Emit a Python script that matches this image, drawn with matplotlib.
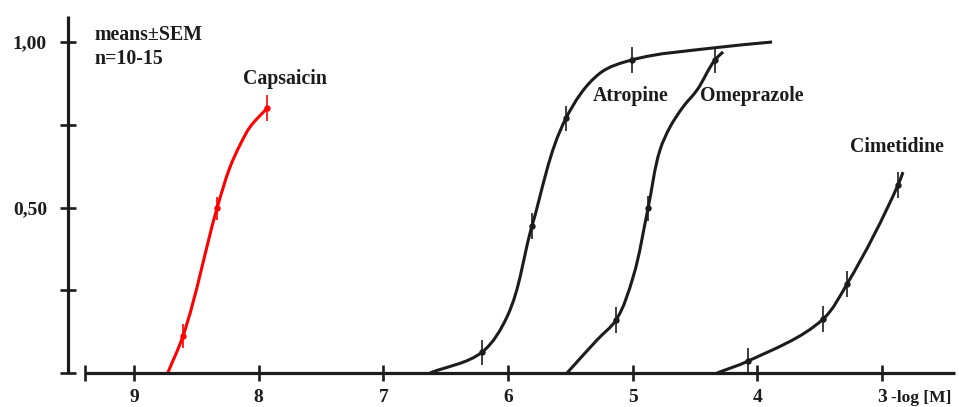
import matplotlib
matplotlib.use("Agg")
import matplotlib.pyplot as plt
import numpy as np
from matplotlib.path import Path
from matplotlib.patches import PathPatch

# ---------------- data ----------------
x_ticks = [9, 8, 7, 6, 5, 4, 3]
x_tick_labels = ["9", "8", "7", "6", "5", "4", "3"]
y_ticks = [0.0, 0.25, 0.50, 0.75, 1.00]
y_tick_labels = ["", "", "0,50", "", "1,00"]

# measured points: -log[M], fraction, SEM
caps_x = [8.607, 8.334, 7.933]
caps_y = [0.112, 0.498, 0.800]
caps_e = [0.035, 0.035, 0.040]

atro_x = [6.209, 5.808, 5.535, 5.005]
atro_y = [0.063, 0.444, 0.770, 0.946]
atro_e = [0.038, 0.040, 0.038, 0.040]

omep_x = [5.134, 4.877, 4.340]
omep_y = [0.160, 0.498, 0.946]
omep_e = [0.038, 0.038, 0.040]

cime_x = [4.075, 3.473, 3.281, 2.872]
cime_y = [0.036, 0.163, 0.269, 0.568]
cime_e = [0.040, 0.040, 0.038, 0.038]

# fitted curves as drawn (knots)
caps_cx = [8.730, 8.607, 8.334, 8.230, 8.150, 8.070, 7.933]
caps_cy = [0.000, 0.112, 0.498, 0.622, 0.689, 0.743, 0.800]

atro_cx = [6.626, 6.209, 6.008, 5.808, 5.535, 5.262, 5.005, 4.356, 3.882]
atro_cy = [0.000, 0.063, 0.170, 0.444, 0.770, 0.906, 0.946, 0.982, 1.000]

omep_cx = [5.527, 5.286, 5.134, 4.997, 4.877, 4.781, 4.701, 4.596, 4.484, 4.340, 4.275]
omep_cy = [0.000, 0.100, 0.160, 0.290, 0.498, 0.674, 0.743, 0.804, 0.855, 0.946, 0.970]

cime_cx = [4.324, 4.075, 3.473, 3.281, 2.872, 2.832]
cime_cy = [0.000, 0.036, 0.163, 0.269, 0.568, 0.607]

# ---------------- helpers ----------------
SX, SY = 124.67, 331.0  # approx. pixels per data unit, used only for smoothing shape


def smooth_path(xs, ys):
    """Bezier path through knots, tangents from neighbours, handle length ~ chord/3."""
    P = np.column_stack([np.asarray(xs) * SX, np.asarray(ys) * SY]).astype(float)
    n = len(P)
    T = np.zeros_like(P)
    for i in range(n):
        if i == 0:
            d = P[1] - P[0]
        elif i == n - 1:
            d = P[-1] - P[-2]
        else:
            a = P[i] - P[i - 1]
            b = P[i + 1] - P[i]
            d = a / np.linalg.norm(a) + b / np.linalg.norm(b)
        T[i] = d / np.linalg.norm(d)
    verts = [P[0]]
    codes = [Path.MOVETO]
    for i in range(n - 1):
        L = np.linalg.norm(P[i + 1] - P[i]) / 3.0
        verts += [P[i] + T[i] * L, P[i + 1] - T[i + 1] * L, P[i + 1]]
        codes += [Path.CURVE4] * 3
    V = np.array(verts)
    V[:, 0] /= SX
    V[:, 1] /= SY
    return Path(V, codes)


INK = "#1c1c1c"
RED = "#ff0000"
FONT = ["Liberation Serif", "DejaVu Serif"]

fig = plt.figure(figsize=(9.59, 4.07), dpi=100)
ax = fig.add_axes([0, 0, 1, 1])
ax.set_xlim(10.075, 2.383)
ax.set_ylim(-0.1027, 1.1269)
ax.patch.set_alpha(0)

for s in ("top", "right"):
    ax.spines[s].set_visible(False)
ax.spines["left"].set_position(("data", 9.529))
ax.spines["left"].set_bounds(0, 1.0785)
ax.spines["bottom"].set_position(("data", 0))
ax.spines["bottom"].set_bounds(9.393, 2.415)
for s in ("left", "bottom"):
    ax.spines[s].set_linewidth(2.3)
    ax.spines[s].set_color(INK)
    ax.spines[s].set_capstyle("butt")

ax.set_xticks(x_ticks)
ax.set_xticklabels(x_tick_labels)
ax.set_xticks([9.393], minor=True)
ax.set_yticks(y_ticks)
ax.set_yticklabels(y_tick_labels)
ax.tick_params(axis="both", which="both", direction="inout", length=11.5,
               width=1.9, color=INK)
ax.tick_params(axis="x", which="both", pad=6.0)
ax.tick_params(axis="y", pad=9.4)
for lab in ax.get_xticklabels() + ax.get_yticklabels():
    lab.set_fontfamily(FONT)
    lab.set_fontweight("bold")
    lab.set_fontsize(14)
    lab.set_color(INK)

# curves
for cx, cy, col in [(caps_cx, caps_cy, RED),
                    (atro_cx, atro_cy, INK),
                    (omep_cx, omep_cy, INK),
                    (cime_cx, cime_cy, INK)]:
    ax.add_patch(PathPatch(smooth_path(cx, cy), fill=False, edgecolor=col,
                           linewidth=2.2, capstyle="butt"))

# points with SEM bars
for px, py, pe, col in [(caps_x, caps_y, caps_e, RED),
                        (atro_x, atro_y, atro_e, INK),
                        (omep_x, omep_y, omep_e, INK),
                        (cime_x, cime_y, cime_e, INK)]:
    ax.errorbar(px, py, yerr=pe, fmt="o", ms=3.6, color=col, ecolor=col,
                elinewidth=1.2, capsize=0, zorder=3)

# annotations
tkw = dict(fontfamily=FONT, fontweight="bold", fontsize=14.3, color=INK,
           va="baseline", ha="left")
ax.text(9.313, 1.006, "means±SEM", **tkw)
ax.text(9.313, 0.934, "n=10-15", **tkw)
ax.text(8.126, 0.873, "Capsaicin", **tkw)
ax.text(5.318, 0.822, "Atropine", **tkw)
ax.text(4.460, 0.822, "Omeprazole", **tkw)
ax.text(3.257, 0.668, "Cimetidine", **tkw)
ax.text(2.928, -0.087, "-log [M]", fontfamily=FONT, fontweight="bold",
        fontsize=12.6, color=INK, va="baseline", ha="left")

fig.savefig("out.png", dpi=100)
